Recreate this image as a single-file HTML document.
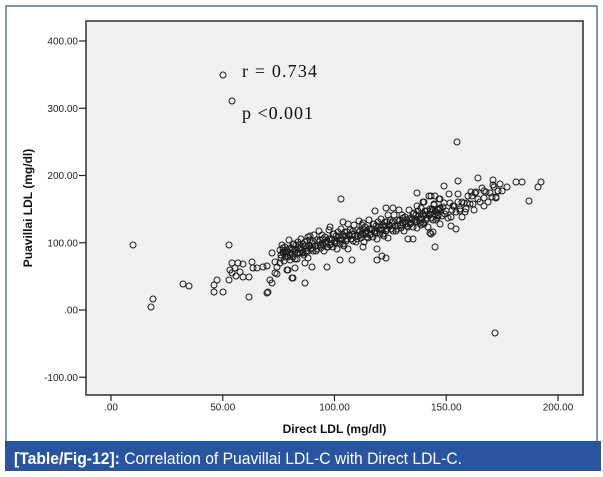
<!DOCTYPE html>
<html><head><meta charset="utf-8"><style>
html,body{margin:0;padding:0;background:#fff;}
svg{display:block;}
</style></head><body>
<svg width="603" height="477" viewBox="0 0 603 477" xmlns="http://www.w3.org/2000/svg">
<rect x="6" y="6" width="591" height="440" fill="#fff" stroke="#2d4f7f" stroke-width="1.2"/>
<rect x="86" y="21" width="497" height="374" fill="#eef0f2" stroke="#3a3a3a" stroke-width="1.6"/>
<g stroke="#222" stroke-width="1.2">
<line x1="79" y1="41" x2="86" y2="41"/><line x1="79" y1="108.25" x2="86" y2="108.25"/><line x1="79" y1="175.5" x2="86" y2="175.5"/><line x1="79" y1="242.75" x2="86" y2="242.75"/><line x1="79" y1="310" x2="86" y2="310"/><line x1="79" y1="377.25" x2="86" y2="377.25"/>
<line x1="111" y1="395" x2="111" y2="401"/><line x1="222.75" y1="395" x2="222.75" y2="401"/><line x1="334.5" y1="395" x2="334.5" y2="401"/><line x1="446.25" y1="395" x2="446.25" y2="401"/><line x1="558" y1="395" x2="558" y2="401"/>
</g>
<g font-family="Liberation Sans, Arial, sans-serif" font-size="10" fill="#222" text-anchor="end">
<text x="78" y="44.5">400.00</text><text x="78" y="111.75">300.00</text><text x="78" y="179">200.00</text><text x="78" y="246.25">100.00</text><text x="78" y="313.5">.00</text><text x="78" y="380.75">-100.00</text>
</g>
<g font-family="Liberation Sans, Arial, sans-serif" font-size="10" fill="#222" text-anchor="middle">
<text x="111" y="410.5">.00</text><text x="222.75" y="410.5">50.00</text><text x="334.5" y="410.5">100.00</text><text x="446.25" y="410.5">150.00</text><text x="558" y="410.5">200.00</text>
</g>
<text x="334.5" y="433" font-family="Liberation Sans, Arial, sans-serif" font-size="12" font-weight="bold" fill="#111" text-anchor="middle">Direct LDL (mg/dl)</text>
<text transform="translate(32,208) rotate(-90)" font-family="Liberation Sans, Arial, sans-serif" font-size="12" font-weight="bold" fill="#111" text-anchor="middle">Puavillai LDL (mg/dl)</text>
<text x="242" y="77" font-family="Liberation Serif, Times New Roman, serif" font-size="18" fill="#111" textLength="75" lengthAdjust="spacing">r = 0.734</text>
<text x="242" y="119" font-family="Liberation Serif, Times New Roman, serif" font-size="18" fill="#111" textLength="71" lengthAdjust="spacing">p &lt;0.001</text>
<rect x="5" y="441" width="596" height="30" fill="#2854a0"/>
<text x="14" y="464" font-family="Liberation Sans, Arial, sans-serif" font-size="17" fill="#fff" textLength="448" lengthAdjust="spacingAndGlyphs"><tspan font-weight="bold">[Table/Fig-12]:</tspan> Correlation of Puavillai LDL-C with Direct LDL-C.</text>
<g fill="none" stroke="#1c1c1c" stroke-width="1">
<circle cx="223" cy="75" r="3"/><circle cx="232" cy="101" r="3"/><circle cx="457" cy="142" r="3"/>
<circle cx="133" cy="245" r="3"/><circle cx="229" cy="245" r="3"/><circle cx="153" cy="299" r="3"/><circle cx="151" cy="307" r="3"/>
<circle cx="183" cy="284" r="3"/><circle cx="189" cy="286" r="3"/><circle cx="214" cy="292" r="3"/><circle cx="223" cy="292" r="3"/><circle cx="214" cy="285" r="3"/><circle cx="217" cy="280" r="3"/><circle cx="229" cy="280" r="3"/><circle cx="249" cy="297" r="3"/><circle cx="267" cy="293" r="3"/><circle cx="495" cy="333" r="3"/>
<circle cx="232" cy="263" r="3"/><circle cx="235" cy="268" r="3"/><circle cx="238" cy="263" r="3"/><circle cx="243" cy="264" r="3"/><circle cx="232" cy="273" r="3"/><circle cx="236" cy="276" r="3"/><circle cx="240" cy="272" r="3"/><circle cx="243" cy="277" r="3"/><circle cx="230" cy="270" r="3"/><circle cx="249" cy="277" r="3"/><circle cx="252" cy="262" r="3"/><circle cx="253" cy="268" r="3"/><circle cx="257" cy="268" r="3"/><circle cx="263" cy="267" r="3"/><circle cx="267" cy="266" r="3"/><circle cx="272" cy="253" r="3"/><circle cx="275" cy="262" r="3"/><circle cx="277" cy="267" r="3"/><circle cx="280" cy="263" r="3"/><circle cx="270" cy="280" r="3"/><circle cx="272" cy="283" r="3"/><circle cx="275" cy="273" r="3"/><circle cx="277" cy="274" r="3"/><circle cx="293" cy="278" r="3"/><circle cx="305" cy="283" r="3"/><circle cx="288" cy="270" r="3"/><circle cx="295" cy="268" r="3"/><circle cx="268" cy="292" r="3"/>
<circle cx="283" cy="252" r="3"/><circle cx="287" cy="252" r="3"/><circle cx="285" cy="257" r="3"/><circle cx="290" cy="260" r="3"/><circle cx="295" cy="259" r="3"/><circle cx="298" cy="253" r="3"/><circle cx="303" cy="252" r="3"/><circle cx="307" cy="252" r="3"/><circle cx="308" cy="237" r="3"/>
<circle cx="341" cy="199" r="3"/><circle cx="417" cy="193" r="3"/><circle cx="429" cy="196" r="3"/><circle cx="435" cy="196" r="3"/><circle cx="423" cy="202" r="3"/><circle cx="417" cy="206" r="3"/><circle cx="375" cy="211" r="3"/><circle cx="386" cy="208" r="3"/><circle cx="393" cy="208" r="3"/><circle cx="388" cy="215" r="3"/><circle cx="343" cy="222" r="3"/><circle cx="348" cy="224" r="3"/><circle cx="330" cy="227" r="3"/><circle cx="363" cy="223" r="3"/><circle cx="408" cy="239" r="3"/><circle cx="413" cy="239" r="3"/><circle cx="430" cy="233" r="3"/><circle cx="433" cy="232" r="3"/><circle cx="310" cy="236" r="3"/><circle cx="377" cy="260" r="3"/><circle cx="382" cy="256" r="3"/><circle cx="386" cy="258" r="3"/><circle cx="340" cy="260" r="3"/><circle cx="352" cy="260" r="3"/><circle cx="327" cy="267" r="3"/><circle cx="312" cy="267" r="3"/><circle cx="305" cy="263" r="3"/><circle cx="292" cy="278" r="3"/><circle cx="287" cy="270" r="3"/><circle cx="363" cy="247" r="3"/><circle cx="377" cy="249" r="3"/>
<circle cx="458" cy="181" r="3"/><circle cx="478" cy="178" r="3"/><circle cx="493" cy="180" r="3"/><circle cx="493" cy="185" r="3"/><circle cx="516" cy="182" r="3"/><circle cx="522" cy="182" r="3"/><circle cx="541" cy="182" r="3"/><circle cx="538" cy="187" r="3"/><circle cx="507" cy="187" r="3"/><circle cx="498" cy="191" r="3"/><circle cx="502" cy="191" r="3"/><circle cx="496" cy="198" r="3"/><circle cx="529" cy="201" r="3"/><circle cx="484" cy="191" r="3"/><circle cx="475" cy="193" r="3"/><circle cx="471" cy="192" r="3"/><circle cx="484" cy="206" r="3"/><circle cx="473" cy="204" r="3"/><circle cx="467" cy="203" r="3"/><circle cx="444" cy="186" r="3"/><circle cx="449" cy="194" r="3"/><circle cx="431" cy="196" r="3"/><circle cx="424" cy="202" r="3"/><circle cx="440" cy="199" r="3"/><circle cx="458" cy="202" r="3"/><circle cx="453" cy="206" r="3"/><circle cx="443" cy="207" r="3"/><circle cx="460" cy="211" r="3"/><circle cx="465" cy="212" r="3"/><circle cx="462" cy="217" r="3"/><circle cx="451" cy="217" r="3"/><circle cx="440" cy="224" r="3"/><circle cx="451" cy="226" r="3"/><circle cx="456" cy="229" r="3"/><circle cx="431" cy="234" r="3"/><circle cx="435" cy="247" r="3"/><circle cx="421" cy="225" r="3"/>
<circle cx="432" cy="209" r="3"/><circle cx="436" cy="212" r="3"/><circle cx="440" cy="208" r="3"/><circle cx="445" cy="214" r="3"/><circle cx="438" cy="216" r="3"/><circle cx="434" cy="205" r="3"/>
<circle cx="280" cy="250" r="3"/><circle cx="281" cy="258" r="3"/><circle cx="282" cy="245" r="3"/><circle cx="283" cy="253" r="3"/><circle cx="284" cy="261" r="3"/><circle cx="285" cy="247" r="3"/><circle cx="286" cy="254" r="3"/><circle cx="287" cy="250" r="3"/><circle cx="288" cy="257" r="3"/><circle cx="289" cy="240" r="3"/>
<circle cx="290" cy="255" r="3"/><circle cx="291" cy="248" r="3"/><circle cx="292" cy="250" r="3"/><circle cx="293" cy="257" r="3"/><circle cx="294" cy="244" r="3"/><circle cx="295" cy="252" r="3"/><circle cx="296" cy="245" r="3"/><circle cx="297" cy="259" r="3"/><circle cx="298" cy="242" r="3"/><circle cx="299" cy="249" r="3"/>
<circle cx="300" cy="253" r="3"/><circle cx="301" cy="239" r="3"/><circle cx="302" cy="250" r="3"/><circle cx="303" cy="244" r="3"/><circle cx="304" cy="255" r="3"/><circle cx="305" cy="246" r="3"/><circle cx="306" cy="251" r="3"/><circle cx="307" cy="241" r="3"/><circle cx="308" cy="258" r="3"/><circle cx="309" cy="246" r="3"/>
<circle cx="310" cy="240" r="3"/><circle cx="311" cy="249" r="3"/><circle cx="312" cy="243" r="3"/><circle cx="313" cy="251" r="3"/><circle cx="314" cy="235" r="3"/><circle cx="315" cy="246" r="3"/><circle cx="316" cy="251" r="3"/><circle cx="317" cy="240" r="3"/><circle cx="318" cy="246" r="3"/><circle cx="319" cy="231" r="3"/>
<circle cx="320" cy="240" r="3"/><circle cx="321" cy="248" r="3"/><circle cx="322" cy="235" r="3"/><circle cx="323" cy="244" r="3"/><circle cx="324" cy="251" r="3"/><circle cx="325" cy="237" r="3"/><circle cx="326" cy="244" r="3"/><circle cx="327" cy="241" r="3"/><circle cx="328" cy="247" r="3"/><circle cx="329" cy="230" r="3"/>
<circle cx="330" cy="245" r="3"/><circle cx="331" cy="239" r="3"/><circle cx="332" cy="240" r="3"/><circle cx="333" cy="247" r="3"/><circle cx="334" cy="234" r="3"/><circle cx="335" cy="243" r="3"/><circle cx="336" cy="236" r="3"/><circle cx="337" cy="249" r="3"/><circle cx="338" cy="232" r="3"/><circle cx="339" cy="240" r="3"/>
<circle cx="340" cy="244" r="3"/><circle cx="341" cy="229" r="3"/><circle cx="342" cy="240" r="3"/><circle cx="343" cy="235" r="3"/><circle cx="344" cy="246" r="3"/><circle cx="345" cy="236" r="3"/><circle cx="346" cy="241" r="3"/><circle cx="347" cy="232" r="3"/><circle cx="348" cy="249" r="3"/><circle cx="349" cy="236" r="3"/>
<circle cx="350" cy="230" r="3"/><circle cx="351" cy="239" r="3"/><circle cx="352" cy="234" r="3"/><circle cx="353" cy="241" r="3"/><circle cx="354" cy="225" r="3"/><circle cx="355" cy="236" r="3"/><circle cx="356" cy="242" r="3"/><circle cx="357" cy="230" r="3"/><circle cx="358" cy="236" r="3"/><circle cx="359" cy="221" r="3"/>
<circle cx="360" cy="231" r="3"/><circle cx="361" cy="238" r="3"/><circle cx="362" cy="225" r="3"/><circle cx="363" cy="234" r="3"/><circle cx="364" cy="242" r="3"/><circle cx="365" cy="227" r="3"/><circle cx="366" cy="234" r="3"/><circle cx="367" cy="231" r="3"/><circle cx="368" cy="238" r="3"/><circle cx="369" cy="220" r="3"/>
<circle cx="370" cy="235" r="3"/><circle cx="371" cy="229" r="3"/><circle cx="372" cy="230" r="3"/><circle cx="373" cy="237" r="3"/><circle cx="374" cy="224" r="3"/><circle cx="375" cy="233" r="3"/><circle cx="376" cy="226" r="3"/><circle cx="377" cy="239" r="3"/><circle cx="378" cy="222" r="3"/><circle cx="379" cy="230" r="3"/>
<circle cx="380" cy="234" r="3"/><circle cx="381" cy="219" r="3"/><circle cx="382" cy="230" r="3"/><circle cx="383" cy="225" r="3"/><circle cx="384" cy="236" r="3"/><circle cx="385" cy="226" r="3"/><circle cx="386" cy="231" r="3"/><circle cx="387" cy="222" r="3"/><circle cx="388" cy="238" r="3"/><circle cx="389" cy="226" r="3"/>
<circle cx="390" cy="220" r="3"/><circle cx="391" cy="229" r="3"/><circle cx="392" cy="223" r="3"/><circle cx="393" cy="231" r="3"/><circle cx="394" cy="215" r="3"/><circle cx="395" cy="226" r="3"/><circle cx="396" cy="231" r="3"/><circle cx="397" cy="220" r="3"/><circle cx="398" cy="226" r="3"/><circle cx="399" cy="210" r="3"/>
<circle cx="400" cy="220" r="3"/><circle cx="401" cy="228" r="3"/><circle cx="402" cy="215" r="3"/><circle cx="403" cy="223" r="3"/><circle cx="404" cy="231" r="3"/><circle cx="405" cy="217" r="3"/><circle cx="406" cy="224" r="3"/><circle cx="407" cy="220" r="3"/><circle cx="408" cy="227" r="3"/><circle cx="409" cy="210" r="3"/>
<circle cx="410" cy="224" r="3"/><circle cx="411" cy="218" r="3"/><circle cx="412" cy="220" r="3"/><circle cx="413" cy="227" r="3"/><circle cx="414" cy="213" r="3"/><circle cx="415" cy="222" r="3"/><circle cx="416" cy="215" r="3"/><circle cx="417" cy="228" r="3"/><circle cx="418" cy="211" r="3"/><circle cx="419" cy="219" r="3"/>
<circle cx="420" cy="223" r="3"/><circle cx="421" cy="208" r="3"/><circle cx="422" cy="219" r="3"/><circle cx="423" cy="214" r="3"/><circle cx="424" cy="224" r="3"/><circle cx="425" cy="215" r="3"/><circle cx="426" cy="220" r="3"/><circle cx="427" cy="211" r="3"/><circle cx="428" cy="227" r="3"/><circle cx="429" cy="215" r="3"/>
<circle cx="430" cy="209" r="3"/><circle cx="431" cy="218" r="3"/><circle cx="432" cy="212" r="3"/><circle cx="433" cy="220" r="3"/><circle cx="434" cy="204" r="3"/><circle cx="435" cy="214" r="3"/><circle cx="436" cy="220" r="3"/><circle cx="437" cy="209" r="3"/><circle cx="438" cy="215" r="3"/><circle cx="439" cy="199" r="3"/><circle cx="440" cy="209" r="3"/>
<circle cx="442" cy="216" r="3"/><circle cx="444" cy="203" r="3"/><circle cx="446" cy="211" r="3"/><circle cx="448" cy="218" r="3"/><circle cx="450" cy="203" r="3"/><circle cx="452" cy="210" r="3"/><circle cx="454" cy="206" r="3"/><circle cx="456" cy="212" r="3"/><circle cx="458" cy="194" r="3"/><circle cx="460" cy="209" r="3"/>
<circle cx="462" cy="202" r="3"/><circle cx="464" cy="203" r="3"/><circle cx="466" cy="209" r="3"/><circle cx="468" cy="196" r="3"/><circle cx="470" cy="204" r="3"/><circle cx="472" cy="196" r="3"/><circle cx="474" cy="210" r="3"/><circle cx="476" cy="192" r="3"/><circle cx="478" cy="199" r="3"/><circle cx="480" cy="202" r="3"/>
<circle cx="482" cy="188" r="3"/><circle cx="484" cy="198" r="3"/><circle cx="486" cy="192" r="3"/><circle cx="488" cy="202" r="3"/><circle cx="490" cy="193" r="3"/><circle cx="492" cy="197" r="3"/><circle cx="494" cy="187" r="3"/><circle cx="496" cy="197" r="3"/><circle cx="498" cy="191" r="3"/><circle cx="500" cy="184" r="3"/>
<circle cx="281" cy="255" r="3"/><circle cx="283" cy="248" r="3"/><circle cx="285" cy="252" r="3"/><circle cx="287" cy="256" r="3"/><circle cx="289" cy="249" r="3"/><circle cx="291" cy="253" r="3"/><circle cx="293" cy="244" r="3"/><circle cx="295" cy="250" r="3"/><circle cx="297" cy="253" r="3"/><circle cx="299" cy="245" r="3"/>
<circle cx="301" cy="248" r="3"/><circle cx="303" cy="253" r="3"/><circle cx="305" cy="242" r="3"/><circle cx="307" cy="248" r="3"/><circle cx="309" cy="245" r="3"/><circle cx="311" cy="248" r="3"/><circle cx="313" cy="241" r="3"/><circle cx="315" cy="246" r="3"/><circle cx="317" cy="249" r="3"/><circle cx="319" cy="242" r="3"/>
<circle cx="321" cy="245" r="3"/><circle cx="323" cy="239" r="3"/><circle cx="325" cy="242" r="3"/><circle cx="327" cy="247" r="3"/><circle cx="329" cy="239" r="3"/><circle cx="331" cy="244" r="3"/><circle cx="333" cy="234" r="3"/><circle cx="335" cy="241" r="3"/><circle cx="337" cy="243" r="3"/><circle cx="339" cy="236" r="3"/>
<circle cx="341" cy="238" r="3"/><circle cx="343" cy="244" r="3"/><circle cx="345" cy="232" r="3"/><circle cx="347" cy="239" r="3"/><circle cx="349" cy="235" r="3"/><circle cx="351" cy="239" r="3"/><circle cx="353" cy="231" r="3"/><circle cx="355" cy="236" r="3"/><circle cx="357" cy="239" r="3"/><circle cx="359" cy="232" r="3"/>
<circle cx="361" cy="235" r="3"/><circle cx="363" cy="229" r="3"/><circle cx="365" cy="232" r="3"/><circle cx="367" cy="237" r="3"/><circle cx="369" cy="229" r="3"/><circle cx="371" cy="234" r="3"/><circle cx="373" cy="224" r="3"/><circle cx="375" cy="231" r="3"/><circle cx="377" cy="233" r="3"/><circle cx="379" cy="226" r="3"/>
<circle cx="381" cy="228" r="3"/><circle cx="383" cy="234" r="3"/><circle cx="385" cy="222" r="3"/><circle cx="387" cy="229" r="3"/><circle cx="389" cy="225" r="3"/><circle cx="391" cy="229" r="3"/><circle cx="393" cy="221" r="3"/><circle cx="395" cy="226" r="3"/><circle cx="397" cy="229" r="3"/><circle cx="399" cy="221" r="3"/>
<circle cx="401" cy="225" r="3"/><circle cx="403" cy="218" r="3"/><circle cx="405" cy="222" r="3"/><circle cx="407" cy="226" r="3"/><circle cx="409" cy="219" r="3"/><circle cx="411" cy="223" r="3"/><circle cx="413" cy="214" r="3"/><circle cx="415" cy="220" r="3"/><circle cx="417" cy="222" r="3"/><circle cx="419" cy="215" r="3"/>
<circle cx="421" cy="217" r="3"/><circle cx="423" cy="223" r="3"/><circle cx="425" cy="211" r="3"/><circle cx="427" cy="218" r="3"/><circle cx="429" cy="214" r="3"/><circle cx="431" cy="218" r="3"/><circle cx="433" cy="210" r="3"/><circle cx="435" cy="214" r="3"/><circle cx="437" cy="218" r="3"/><circle cx="439" cy="210" r="3"/>
</g>
</svg>
</body></html>
